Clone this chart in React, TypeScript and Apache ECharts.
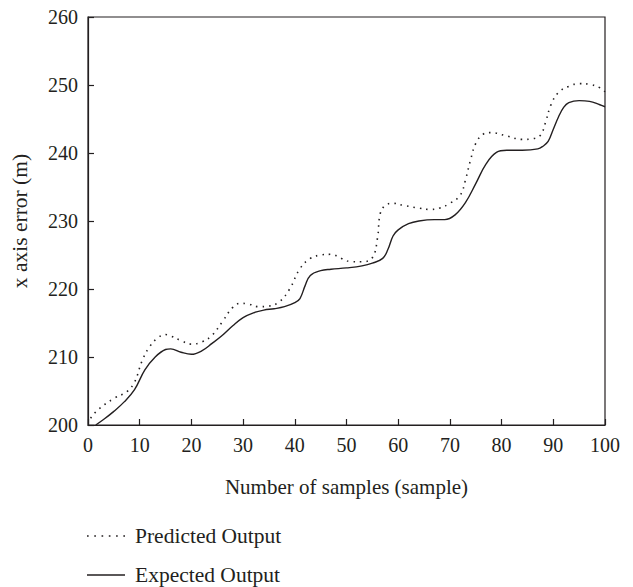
import React, { useEffect, useRef } from "react";
import * as echarts from "echarts";

const expectedX = [1.5, 3, 5, 7, 9, 11, 13, 15, 16, 18, 20, 22, 24, 26, 28, 30, 32, 34, 36, 38, 40, 41, 42, 43, 45, 47, 50, 53, 55, 57, 58, 59, 60, 62, 64, 67, 69, 71, 73, 75, 77, 79, 81, 84, 87, 88, 89, 90, 91, 92, 93, 95, 97, 99, 100];
const expectedY = [200.0, 200.8, 202.0, 203.4, 205.2, 208.1, 210.0, 211.1, 211.2, 210.7, 210.4, 210.9, 212.0, 213.2, 214.6, 215.8, 216.5, 216.9, 217.1, 217.4, 218.0, 218.6, 220.5, 222.0, 222.7, 222.9, 223.1, 223.4, 223.8, 224.5, 225.8, 227.8, 228.7, 229.6, 230.0, 230.2, 230.2, 230.9, 232.7, 235.5, 238.4, 240.1, 240.4, 240.4, 240.6, 241.0, 241.7, 243.5, 245.3, 246.7, 247.4, 247.7, 247.6, 247.1, 246.8];

const predictedX = [0.5, 2, 5, 7.5, 9, 10.5, 12, 13.5, 15, 16, 18, 20, 22, 24, 26, 28, 29.5, 31, 33, 35, 37, 39, 41, 43, 45, 47, 49, 51, 53, 55, 56, 56.5, 57.5, 59, 61, 64, 66, 68, 70, 72, 73, 74, 75, 76.5, 78, 81, 84, 86, 87.5, 88.5, 89.5, 91, 93, 95, 97, 99, 100];
const predictedY = [201.0, 202.3, 203.9, 204.9, 206.3, 209.5, 211.6, 212.8, 213.3, 213.1, 212.4, 211.9, 212.2, 213.2, 215.2, 217.3, 217.9, 217.8, 217.4, 217.5, 218.1, 220.0, 223.0, 224.5, 225.0, 225.1, 224.5, 224.0, 224.0, 224.6, 227.5, 231.0, 232.3, 232.6, 232.3, 231.9, 231.7, 231.9, 232.6, 233.8, 236.0, 239.0, 241.4, 242.8, 243.0, 242.5, 242.0, 242.1, 242.6, 244.5, 247.0, 248.9, 249.8, 250.2, 250.1, 249.6, 249.0];

const xTitle = "Number of samples (sample)";
const yTitle = "x axis error (m)";
const seriesNames = ["Predicted Output", "Expected Output"];

const FONT = "Liberation Serif";
const INK = "#231f20";

const DOTTED_ICON = "path://M0,0h1.6v1.6h-1.6zM7,0h1.6v1.6h-1.6zM14,0h1.6v1.6h-1.6zM21,0h1.6v1.6h-1.6zM28,0h1.6v1.6h-1.6zM35,0h1.6v1.6h-1.6z";
const SOLID_ICON = "path://M0,0h38v1.5h-38z";

const legendBase = {
  orient: "vertical",
  left: 87,
  itemWidth: 38,
  itemHeight: 14,
  padding: 0,
  symbolKeepAspect: true,
  textStyle: { fontFamily: FONT, fontSize: 21.5, color: INK, padding: [0, 0, 0, 5] },
};

export default function App() {
  const ref = useRef<HTMLDivElement>(null);
  useEffect(() => {
    if (!ref.current) return;
    const chart = echarts.init(ref.current, undefined, { renderer: "svg" });
    chart.setOption({
      animation: false,
      backgroundColor: "#ffffff",
      grid: {
        left: 88,
        right: 28,
        top: 17,
        bottom: 162,
        show: true,
        borderColor: INK,
        borderWidth: 1.2,
      },
      legend: [
        { ...legendBase, top: 525, data: [{ name: seriesNames[0], icon: DOTTED_ICON }] },
        { ...legendBase, top: 564, data: [{ name: seriesNames[1], icon: SOLID_ICON }] },
      ],
      xAxis: {
        type: "value",
        min: 0,
        max: 100,
        interval: 10,
        name: xTitle,
        nameLocation: "middle",
        nameGap: 51,
        nameTextStyle: { fontFamily: FONT, fontSize: 21, color: INK },
        axisLine: { show: true, lineStyle: { color: INK, width: 1.2 } },
        axisTick: { show: true, inside: true, length: 6, lineStyle: { color: INK, width: 1.2 } },
        axisLabel: { fontFamily: FONT, fontSize: 20, color: INK, margin: 10 },
        splitLine: { show: false },
      },
      yAxis: {
        type: "value",
        min: 200,
        max: 260,
        interval: 10,
        name: yTitle,
        nameLocation: "middle",
        nameGap: 57,
        nameTextStyle: { fontFamily: FONT, fontSize: 21.5, color: INK },
        axisLine: { show: true, lineStyle: { color: INK, width: 1.2 } },
        axisTick: { show: true, inside: true, length: 6, lineStyle: { color: INK, width: 1.2 } },
        axisLabel: { fontFamily: FONT, fontSize: 20, color: INK, margin: 10 },
        splitLine: { show: false },
      },
      series: [
        {
          name: seriesNames[0],
          type: "line",
          data: predictedX.map((x, i) => [x, predictedY[i]]),
          smooth: 0.4,
          symbol: "none",
          lineStyle: { color: INK, width: 1.6, type: [1.5, 5] },
          itemStyle: { color: INK },
        },
        {
          name: seriesNames[1],
          type: "line",
          data: expectedX.map((x, i) => [x, expectedY[i]]),
          smooth: 0.4,
          symbol: "none",
          lineStyle: { color: INK, width: 1.4 },
          itemStyle: { color: INK },
        },
      ],
    });
    return () => chart.dispose();
  }, []);
  return (
    <div
      ref={ref}
      style={{ position: "absolute", left: 0, top: 0, width: 633, height: 587 }}
    />
  );
}
